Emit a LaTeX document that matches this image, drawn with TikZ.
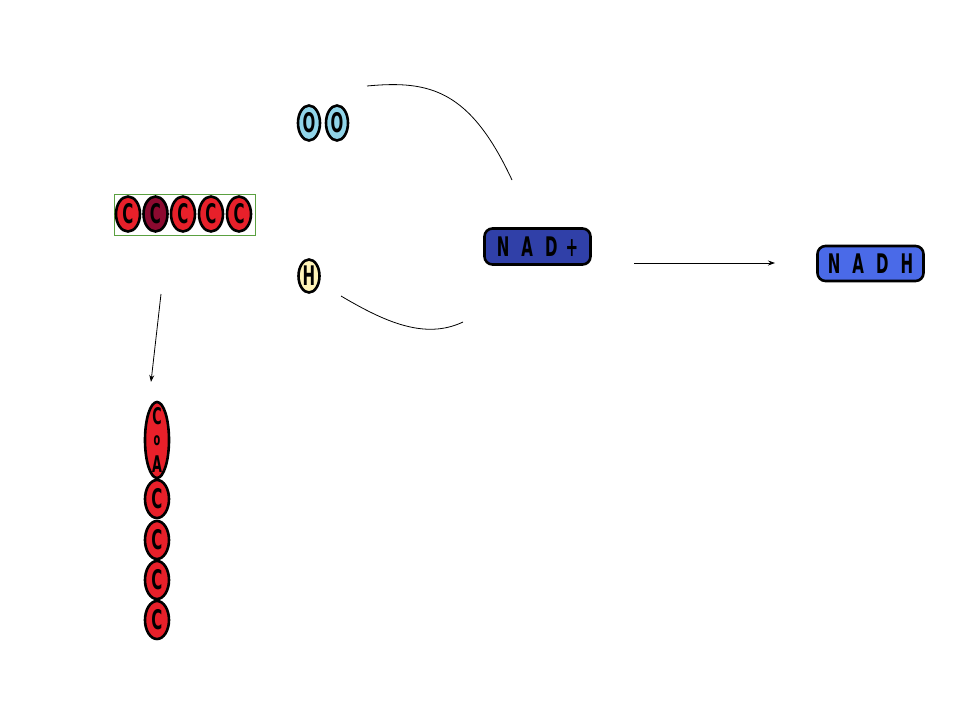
\documentclass[tikz,border=0pt]{standalone}
\usepackage{fontspec}
\setmainfont{DejaVu Sans}
\usetikzlibrary{arrows.meta,shapes.geometric}
\definecolor{cred}{HTML}{E8202A}
\definecolor{cdark}{HTML}{8C0A30}
\definecolor{oblue}{HTML}{90D4E8}
\definecolor{hyel}{HTML}{FFF4B8}
\definecolor{nadp}{HTML}{3040A8}
\definecolor{nadh}{HTML}{4A6AE8}
\definecolor{boxg}{HTML}{5AA040}
\newcommand{\pix}[1]{\scalebox{0.75}[1.35]{#1}}
\tikzset{
  atom/.style={draw=black, line width=2.6pt, ellipse, inner sep=0pt, minimum width=24pt, minimum height=35pt, font=\fontsize{20}{20}\selectfont\bfseries, text=black},
  pill/.style={draw=black, line width=2.6pt, rounded corners=8pt, minimum width=106pt, minimum height=36pt, inner sep=0pt, font=\fontsize{20}{20}\selectfont\bfseries, text=black},
  letter/.style={inner sep=0pt, font=\fontsize{17}{17}\selectfont\bfseries, text=black},
  conn/.style={draw=black, line width=0.8pt},
  arr/.style={conn, -{Stealth[length=7pt,width=5pt]}}
}
\begin{document}
\begin{tikzpicture}[x=1pt,y=-1pt]
\useasboundingbox (0,0) rectangle (960,720);
% CCCCC chain
\node[draw=boxg, line width=0.8pt, minimum width=141pt, minimum height=41pt, inner sep=0pt] (chainbox) at (184.5,214.5) {};
\node[atom, fill=cred] (c1) at (128,214) {\pix{C}};
\node[atom, fill=cdark] (c2) at (155.5,214) {\pix{C}};
\node[atom, fill=cred] (c3) at (183,214) {\pix{C}};
\node[atom, fill=cred] (c4) at (211,214) {\pix{C}};
\node[atom, fill=cred] (c5) at (239,214) {\pix{C}};
% OO
\node[atom, fill=oblue, minimum width=22pt] (o1) at (309,123) {\pix{O}};
\node[atom, fill=oblue, minimum width=22pt] (o2) at (337,123) {\pix{O}};
% H
\node[atom, fill=hyel, minimum width=21pt, minimum height=33pt] (h) at (309,276) {\pix{H}};
% NAD+
\node[pill, fill=nadp] (nadp) at (537.5,246.5) {\pix{N}\hspace{12pt}\pix{A}\hspace{12pt}\pix{D}\hspace{8pt}\pix{+}};
% NADH
\node[pill, fill=nadh, minimum height=35pt] (nadh) at (870.5,263.5) {\pix{N}\hspace{12pt}\pix{A}\hspace{12pt}\pix{D}\hspace{12pt}\pix{H}};
% vertical chain
\node[atom, fill=cred, minimum width=24pt, minimum height=76pt] (coa) at (157,440) {};
\node[letter] (coaC) at (157,416) {\pix{C}};
\node[letter, font=\fontsize{13}{13}\selectfont\bfseries] (coaO) at (157,441) {\pix{o}};
\node[letter] (coaA) at (157,464) {\pix{A}};
\node[atom, fill=cred, minimum height=38pt] (v1) at (157,499) {\pix{C}};
\node[atom, fill=cred, minimum height=38pt] (v2) at (157,540) {\pix{C}};
\node[atom, fill=cred, minimum height=38pt] (v3) at (157,580) {\pix{C}};
\node[atom, fill=cred, minimum height=38pt] (v4) at (157,620) {\pix{C}};
% connectors
\coordinate (a1s) at (161,294);
\coordinate (a1e) at (151,382);
\draw[arr] (a1s) -- (a1e);
\coordinate (a2s) at (634,263);
\coordinate (a2e) at (775,263);
\draw[arr] (a2s) -- (a2e);
\coordinate (k1s) at (367,86);
\coordinate (k1e) at (512,180);
\draw[conn] (k1s) .. controls (430,80) and (470,90) .. (k1e);
\coordinate (k2s) at (341,296);
\coordinate (k2e) at (463,322);
\draw[conn] (k2s) .. controls (385,322) and (425,340) .. (k2e);
\end{tikzpicture}
\end{document}
